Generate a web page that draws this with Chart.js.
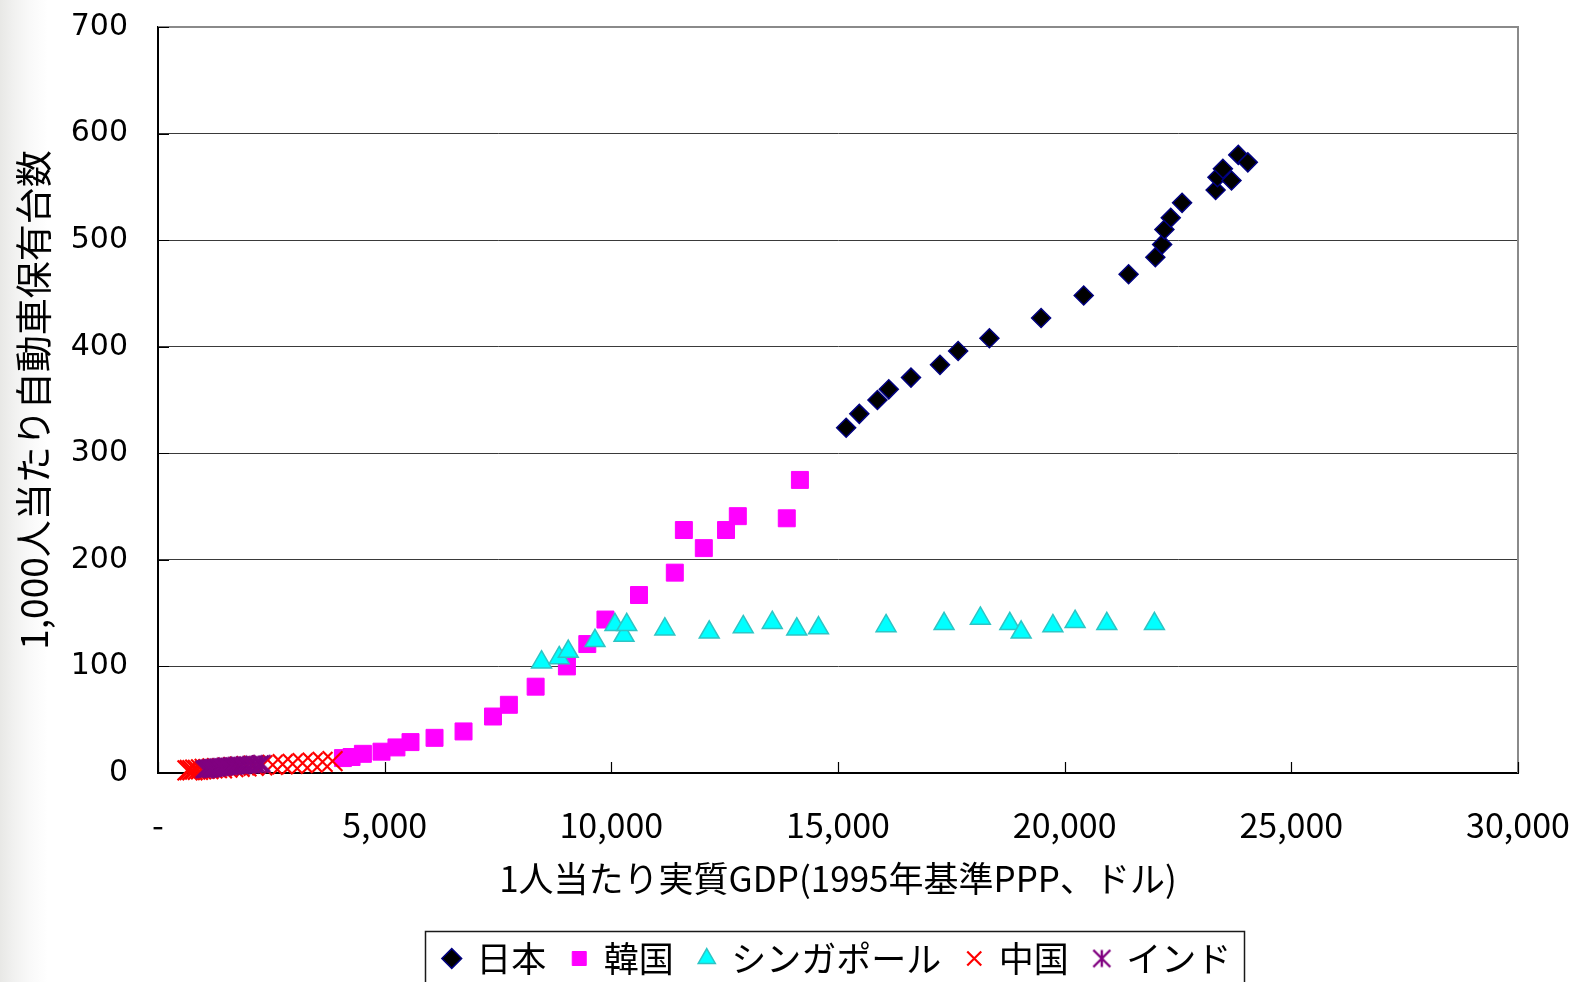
<!DOCTYPE html>
<html lang="ja">
<head>
<meta charset="utf-8">
<title>1人当たり実質GDPと1,000人当たり自動車保有台数</title>
<script src="https://cdn.jsdelivr.net/npm/chart.js@4.4.1/dist/chart.umd.min.js"></script>
<style>
  html, body {
    margin: 0; padding: 0; width: 1577px; height: 982px; overflow: hidden;
    background: linear-gradient(90deg, #e8e8e6 0px, #f1f1f0 14px, #f9f9f9 30px, #ffffff 48px);
  }
  #wrap { position: relative; width: 1577px; height: 982px; }
</style>
</head>
<body>
<div id="wrap"><canvas id="c" width="1577" height="982"></canvas></div>
<script>
// Series names (legend order)
const seriesNames = ['日本', '韓国', 'シンガポール', '中国', 'インド'];

// Axis titles
const xTitle = '1人当たり実質GDP(1995年基準PPP、ドル)';
const yTitle = '1,000人当たり自動車保有台数';

// Tick values and their labels
const xTickValues = [0, 5000, 10000, 15000, 20000, 25000, 30000];
const xTickLabels = ['-', '5,000', '10,000', '15,000', '20,000', '25,000', '30,000'];
const yTickValues = [0, 100, 200, 300, 400, 500, 600, 700];
const yTickLabels = ['0', '100', '200', '300', '400', '500', '600', '700'];

// 日本: GDP per capita (x) and cars per 1,000 people (y)
const japanGdp  = [15180, 15470, 15870, 16120, 16610, 17250, 17650, 18340, 19480, 20420, 21410,
                   22000, 22150, 22200, 22340, 22590, 23330, 23370, 23490, 23680, 23830, 24040];
const japanCars = [324, 337, 350, 360, 371, 383, 396, 408, 427, 448, 468,
                   484, 496, 510, 521, 535, 547, 559, 567, 556, 580, 573];

// 韓国
const koreaGdp  = [4080, 4270, 4520, 4930, 5260, 5570, 6100, 6740, 7390, 7740, 8330,
                   9020, 9470, 9870, 10610, 11400, 11600, 12040, 12530, 12790, 13870, 14160];
const koreaCars = [14, 15, 18, 20, 24, 29, 33, 39, 53, 64, 81,
                   100, 121, 144, 167, 188, 228, 211, 228, 241, 239, 275];

// シンガポール
const singaporeGdp  = [8460, 8850, 9050, 9640, 10080, 10280, 10340, 11180, 12160, 12910, 13550,
                       14090, 14570, 16060, 17340, 18140, 18790, 19040, 19740, 20230, 20930, 21980];
const singaporeCars = [104, 108, 114, 124, 139, 129, 139, 135, 132, 137, 141,
                       135, 136, 138, 140, 145, 140, 132, 138, 142, 140, 140];

// 中国
const chinaGdp  = [650, 700, 760, 820, 880, 950, 1030, 1110, 1200, 1300, 1410, 1530,
                   1660, 1800, 1950, 2110, 2300, 2530, 2750, 2970, 3190, 3410, 3630, 3850];
const chinaCars = [2.5, 2.8, 2.6, 3.1, 3.0, 3.4, 3.9, 3.7, 4.3, 4.6, 4.4, 5.1,
                   5.5, 5.9, 6.3, 6.8, 7.1, 7.6, 8.2, 8.6, 9.3, 9.8, 10.5, 11.2];

// インド
const indiaGdp  = [1020, 1040, 1060, 1080, 1100, 1120, 1140, 1165, 1190, 1215, 1240, 1270,
                   1300, 1330, 1360, 1400, 1440, 1480, 1520, 1570, 1620, 1670, 1730, 1790,
                   1850, 1910, 1980, 2050, 2120, 2190, 2250, 2290];
const indiaCars = [3.2, 3.8, 3.5, 4.1, 3.9, 4.4, 4.0, 4.6, 4.3, 4.9, 4.7, 5.2,
                   5.0, 5.5, 5.3, 5.9, 5.6, 6.1, 6.4, 6.0, 6.7, 6.5, 7.0, 7.3,
                   6.9, 7.6, 7.4, 7.9, 8.2, 7.8, 8.5, 8.8];

const CJK = "'Noto Sans CJK JP', 'Noto Sans', sans-serif";

function pairs(xs, ys) { return xs.map((x, i) => ({ x, y: ys[i] })); }

// Asterisk marker: an X with a vertical stroke
function asteriskSprite(size, color, lw) {
  const c = document.createElement('canvas');
  c.width = size; c.height = size;
  const g = c.getContext('2d');
  const m = size / 2, h = size / 2 - 1.5;
  g.strokeStyle = color; g.lineWidth = lw;
  g.beginPath();
  g.moveTo(m, m - h); g.lineTo(m, m + h);
  g.moveTo(m - h, m - h); g.lineTo(m + h, m + h);
  g.moveTo(m - h, m + h); g.lineTo(m + h, m - h);
  g.stroke();
  return c;
}
const asterisk = asteriskSprite(20, '#800080', 2.4);

// Plot frame, inside tick marks and the legend box
const framePlugin = {
  id: 'frame',
  beforeDatasetsDraw(chart) {
    const { ctx, chartArea: a, scales } = chart;
    ctx.save();
    ctx.strokeStyle = '#8a8a8a';
    ctx.lineWidth = 2;
    ctx.beginPath();
    ctx.moveTo(a.left, a.top); ctx.lineTo(a.right, a.top); ctx.lineTo(a.right, a.bottom);
    ctx.stroke();
    ctx.strokeStyle = '#000';
    ctx.lineWidth = 1.2;
    ctx.beginPath();
    xTickValues.forEach(v => {
      const px = Math.round(scales.x.getPixelForValue(v)) + 0.5;
      ctx.moveTo(px, a.bottom); ctx.lineTo(px, a.bottom - 11);
    });
    yTickValues.forEach(v => {
      const py = Math.round(scales.y.getPixelForValue(v)) + 0.5;
      ctx.moveTo(a.left, py); ctx.lineTo(a.left + 11, py);
    });
    ctx.stroke();
    ctx.restore();
  },
  afterDraw(chart) {
    const lg = chart.legend;
    if (!lg || !lg.legendHitBoxes || !lg.legendHitBoxes.length) return;
    const hb = lg.legendHitBoxes;
    const first = hb[0], last = hb[hb.length - 1];
    const left = Math.round(first.left - 20) + 0.5;
    const right = Math.round(last.left + last.width + 13) + 0.5;
    const top = Math.round(first.top + first.height / 2 - 28) + 0.5;
    const { ctx } = chart;
    ctx.save();
    ctx.strokeStyle = '#1a1a1a';
    ctx.lineWidth = 1.5;
    ctx.strokeRect(left, top, right - left, chart.height + 20 - top);
    ctx.restore();
  }
};

Chart.defaults.color = '#000';

new Chart(document.getElementById('c'), {
  type: 'scatter',
  data: {
    datasets: [
      { label: seriesNames[0], data: pairs(japanGdp, japanCars), pointStyle: 'rectRot', pointRadius: 9.5,
        backgroundColor: '#000000', borderColor: '#000080', borderWidth: 1.5, order: 5, clip: false },
      { label: seriesNames[1], data: pairs(koreaGdp, koreaCars), pointStyle: 'rect', pointRadius: 12,
        backgroundColor: '#ff00ff', borderColor: '#ff00ff', borderWidth: 1, order: 4, clip: false },
      { label: seriesNames[2], data: pairs(singaporeGdp, singaporeCars), pointStyle: 'triangle', pointRadius: 11.5,
        backgroundColor: '#00ffff', borderColor: '#2ec4c4', borderWidth: 1.5, order: 3, clip: false },
      { label: seriesNames[3], data: pairs(chinaGdp, chinaCars), pointStyle: 'crossRot', pointRadius: 14,
        backgroundColor: '#ff0000', borderColor: '#ff0000', borderWidth: 2.2, order: 2, clip: false },
      { label: seriesNames[4], data: pairs(indiaGdp, indiaCars), pointStyle: asterisk, pointRadius: 10,
        backgroundColor: '#800080', borderColor: '#800080', borderWidth: 2.4, order: 1, clip: false }
    ]
  },
  options: {
    responsive: false,
    animation: false,
    devicePixelRatio: 1,
    events: [],
    layout: { padding: { top: 27, left: 0, right: 59, bottom: -4 } },
    plugins: {
      tooltip: { enabled: false },
      legend: {
        position: 'bottom',
        fullSize: false,
        labels: {
          usePointStyle: true,
          boxWidth: 14,
          boxHeight: 14,
          padding: 26,
          color: '#000',
          font: { family: CJK, size: 35 },
          sort: (a, b) => a.datasetIndex - b.datasetIndex
        }
      }
    },
    scales: {
      x: {
        type: 'linear',
        position: 'bottom',
        min: 0, max: 30000,
        afterFit: s => { s.height = 142; s.paddingLeft = 0; s.paddingRight = 0; },
        afterBuildTicks: s => { s.ticks = xTickValues.map(v => ({ value: v })); },
        ticks: {
          padding: 32,
          color: '#000',
          font: { family: CJK, size: 34 },
          maxRotation: 0,
          callback: v => xTickLabels[xTickValues.indexOf(v)]
        },
        grid: { display: false, drawTicks: false },
        border: { display: true, color: '#000', width: 2 },
        title: {
          display: true, text: xTitle, color: '#000',
          font: { family: CJK, size: 35 },
          padding: { top: 0, bottom: 15 }
        }
      },
      y: {
        min: 0, max: 700,
        afterFit: s => { s.width = 158; s.paddingTop = 0; s.paddingBottom = 0; },
        afterBuildTicks: s => { s.ticks = yTickValues.map(v => ({ value: v })); },
        ticks: {
          padding: 30,
          color: '#000',
          font: { family: "'DejaVu Sans', sans-serif", size: 30 },
          callback: v => yTickLabels[yTickValues.indexOf(v)]
        },
        grid: {
          drawTicks: false,
          color: c => (c.tick && c.tick.value === 700) ? '#8a8a8a' : '#3a3a3a',
          lineWidth: c => (c.tick && c.tick.value === 700) ? 2 : 1
        },
        border: { display: true, color: '#000', width: 2 },
        title: {
          display: true, text: yTitle, color: '#000',
          font: { family: CJK, size: 37 },
          padding: { top: 12, bottom: 0 }
        }
      }
    }
  },
  plugins: [framePlugin]
});
</script>
</body>
</html>
